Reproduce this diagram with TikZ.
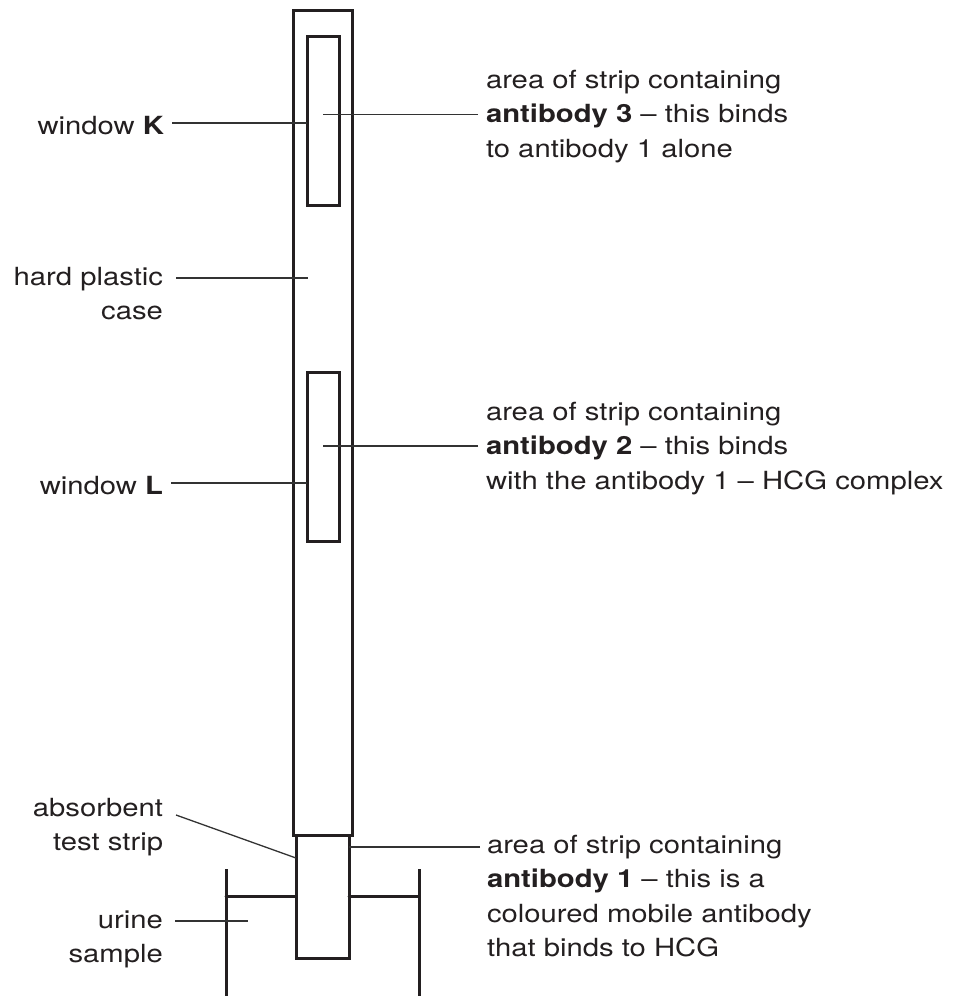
\documentclass[tikz,border=0pt]{standalone}
\usepackage{fontspec}
\setmainfont{TeX Gyre Heros}[FakeStretch=1.17]
\definecolor{ink}{HTML}{231F20}
\definecolor{leadc}{HTML}{333333}
\tikzset{
  thickline/.style={draw=ink, line width=3pt},
  box/.style={thickline, inner sep=0pt, outer sep=0pt},
  leader/.style={draw=leadc, line width=1.3pt},
  lbl/.style={inner sep=0pt, outer sep=0pt, text=ink, font=\fontsize{25}{34.5}\selectfont},
}
\begin{document}
\begin{tikzpicture}[x=1pt,y=-1pt]
\useasboundingbox (0,0) rectangle (957,996);

% hard plastic case, windows and strip
\node[box, minimum width=58.5pt, minimum height=825pt] (case) at (322.75,422.5) {};
\node[box, minimum width=32.5pt, minimum height=169pt] (wK) at (323.25,120.5) {};
\node[box, minimum width=32.5pt, minimum height=169pt] (wL) at (323.25,456.5) {};
\node[box, minimum width=53pt, minimum height=123pt] (strip) at (322.5,896.5) {};

% urine container
\coordinate (cL) at (226,869);
\coordinate (cR) at (419,869);
\draw[thickline] (cL) -- (226,996);
\draw[thickline] (cR) -- (419,996);
\draw[thickline, line cap=round] (226,896) -- (296,896);
\draw[thickline, line cap=round] (349,896) -- (419,896);

% left labels
\node[lbl, anchor=base east] (tK) at (164,134) {window \textbf{K}};
\node[lbl, anchor=base east] (hpa) at (163,285) {hard plastic};
\node[lbl, anchor=base east] (hpb) at (163,319.5) {case};
\node[lbl, anchor=base east] (tL) at (163,494) {window \textbf{L}};
\node[lbl, anchor=base east] (absa) at (163,816) {absorbent};
\node[lbl, anchor=base east] (absb) at (163,850.5) {test strip};
\node[lbl, anchor=base east] (ura) at (163,928) {urine};
\node[lbl, anchor=base east] (urb) at (163,962.5) {sample};

% right labels
\node[lbl, anchor=base west] (ab3a) at (486,88) {area of strip containing};
\node[lbl, anchor=base west] (ab3b) at (486,122.5) {\textbf{antibody 3} – this binds};
\node[lbl, anchor=base west] (ab3c) at (486,157) {to antibody 1 alone};

\node[lbl, anchor=base west] (ab2a) at (486,420) {area of strip containing};
\node[lbl, anchor=base west] (ab2b) at (486,454.5) {\textbf{antibody 2} – this binds};
\node[lbl, anchor=base west] (ab2c) at (486,489) {with the antibody 1 – HCG complex};

\node[lbl, anchor=base west] (ab1a) at (487,853) {area of strip containing};
\node[lbl, anchor=base west] (ab1b) at (487,887.5) {\textbf{antibody 1} – this is a};
\node[lbl, anchor=base west] (ab1c) at (487,922) {coloured mobile antibody};
\node[lbl, anchor=base west] (ab1d) at (487,956.5) {that binds to HCG};

% leader lines
\draw[leader] (tK.base east) ++(8,-11) coordinate (pK) -- (pK -| wK.west);
\draw[leader] (hpa.base east) ++(13,-7) coordinate (pH) -- ([xshift=1pt]pH -| wK.west);
\draw[leader] (tL.base east) ++(8,-11) coordinate (pL) -- (pL -| wL.west);
\draw[leader] (absa.base east) ++(13,-1) coordinate (pA) -- ([yshift=-23pt]strip.north west);
\coordinate (urineend) at (248,921);
\draw[leader] (ura.base east) ++(12,-7) coordinate (pU) -- (urineend);
\draw[leader] (ab3b.base west) ++(-8,-8) coordinate (p3) -- (p3 -| wK.center);
\draw[leader] (ab2b.base west) ++(-8,-8.5) coordinate (p2) -- (p2 -| wL.center);
\draw[leader] (ab1a.base west) ++(-7,-6) coordinate (p1) -- (p1 -| strip.east);
\end{tikzpicture}
\end{document}
